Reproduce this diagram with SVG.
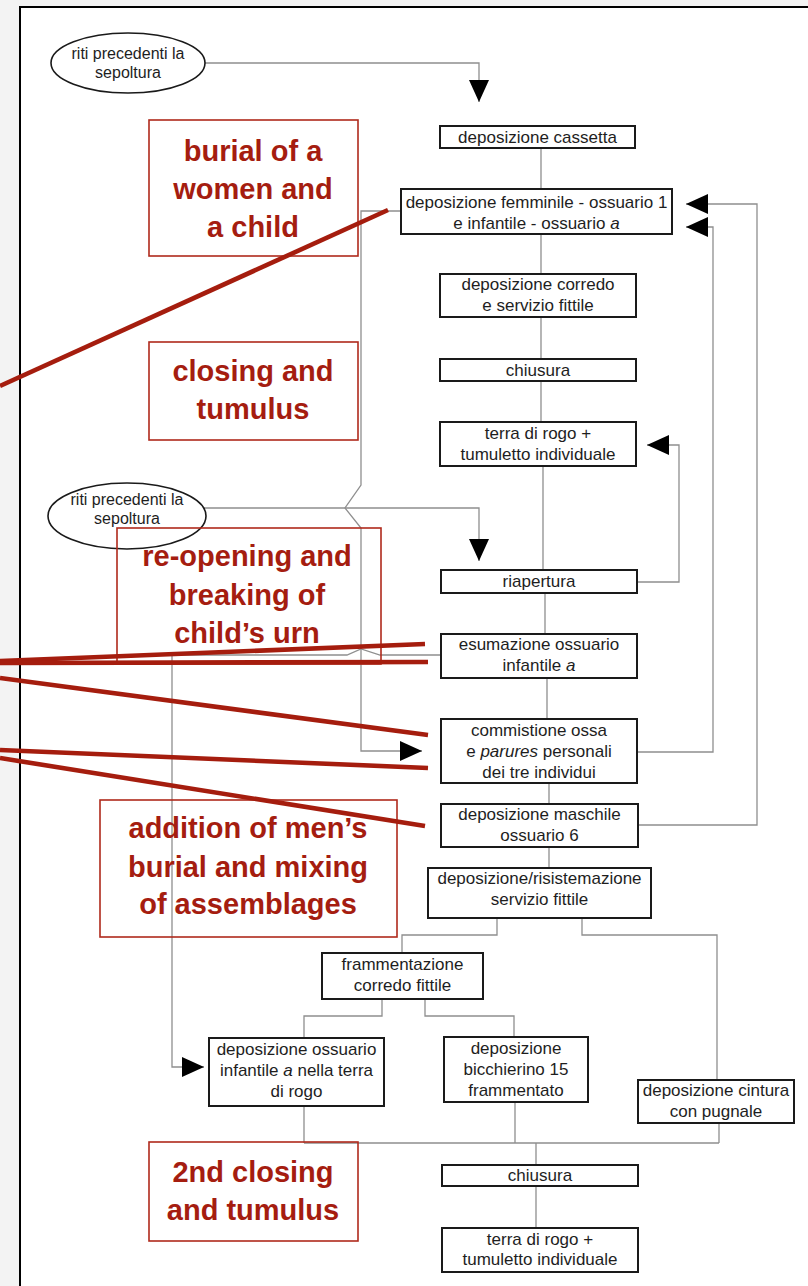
<svg xmlns="http://www.w3.org/2000/svg" width="808" height="1286" viewBox="0 0 808 1286">
<defs>
<marker id="ah" viewBox="0 0 22 20" refX="22" refY="10" markerWidth="22" markerHeight="20" markerUnits="userSpaceOnUse" orient="auto"><path d="M0,0 L22,10 L0,20 z" fill="#000"/></marker>
<style>
.box{fill:#fff;stroke:#1a1a1a;stroke-width:2}
.ell{fill:#fff;stroke:#1a1a1a;stroke-width:1.6}
.t{font-family:"Liberation Sans",Arial,sans-serif;font-size:17px;fill:#1e1e1e;text-anchor:middle}
.te{font-size:16px}
.it{font-style:italic}
.con{fill:none;stroke:#8f8f8f;stroke-width:1.3}
.arr{marker-end:url(#ah)}
.rbox{fill:none;stroke:#b02a1c;stroke-width:1.6}
.rt{font-family:"Liberation Sans",Arial,sans-serif;font-size:29px;font-weight:bold;fill:#a51d10;text-anchor:middle}
.rl{stroke:#a51d0e;stroke-width:4.6;fill:none}
</style>
</defs>
<rect x="0" y="0" width="808" height="1286" fill="#f3f3f3"/>
<rect x="20" y="7" width="800" height="1290" fill="#fff" stroke="#000" stroke-width="2"/>

<g id="connectors">
<path class="con arr" d="M204,63 H479 V102"/>
<path class="con" d="M541,148 V189 M541,234 V274 M541,317 V359 M541,381 V422 M543,466 V570 M545,593 V634 M547,678 V719 M549,783 V804 M549,847 V868"/>
<path class="con arr" d="M638,825 H757 V204 H686"/>
<path class="con arr" d="M637,752 H713 V227 H686"/>
<path class="con arr" d="M637,582 H679 V445 H647"/>
<path class="con arr" d="M401,211 H361 V485 L345,508 L361,528 V751 H422"/>
<path class="con arr" d="M204,508 H479 V561"/>
<path class="con arr" d="M441,655 H380 L361,649 L347,655 H172 V1067 H204"/>
<path class="con" d="M497,918 V935 H402 V953 M582,918 V935 H717 V1080"/>
<path class="con" d="M382,999 V1016 H304 V1038 M425,999 V1016 H514 V1037"/>
<path class="con" d="M304,1106 V1143 M515,1102 V1143 M719,1123 V1143 M304,1143 H719 M536,1143 V1165 M536,1186 V1228"/>
</g>

<g id="n_riti1"><ellipse class="ell" cx="128" cy="63" rx="77" ry="30"/><text class="t te" x="128" y="59">riti precedenti la</text><text class="t te" x="128" y="78">sepoltura</text></g>
<g id="n_cassetta"><rect class="box" x="440" y="126" width="195" height="22"/><text class="t" x="537.5" y="143">deposizione cassetta</text></g>
<g id="n_femminile"><rect class="box" x="401" y="189" width="271" height="45"/><text class="t" x="536.5" y="208">deposizione femminile - ossuario 1</text><text class="t" x="536.5" y="229">e infantile - ossuario <tspan class="it">a</tspan></text></g>
<g id="n_corredo"><rect class="box" x="440" y="274" width="196" height="43"/><text class="t" x="538" y="290">deposizione corredo</text><text class="t" x="538" y="311">e servizio fittile</text></g>
<g id="n_chiusura1"><rect class="box" x="440" y="359" width="196" height="22"/><text class="t" x="538" y="376">chiusura</text></g>
<g id="n_terra1"><rect class="box" x="440" y="422" width="196" height="44"/><text class="t" x="538" y="439">terra di rogo +</text><text class="t" x="538" y="460">tumuletto individuale</text></g>
<g id="n_riti2"><ellipse class="ell" cx="127" cy="516" rx="79" ry="33"/><text class="t te" x="127" y="505">riti precedenti la</text><text class="t te" x="127" y="524">sepoltura</text></g>
<g id="n_riapertura"><rect class="box" x="441" y="570" width="196" height="23"/><text class="t" x="539" y="587">riapertura</text></g>
<g id="n_esumazione"><rect class="box" x="441" y="634" width="196" height="44"/><text class="t" x="539" y="650">esumazione ossuario</text><text class="t" x="539" y="671">infantile <tspan class="it">a</tspan></text></g>
<g id="n_commistione"><rect class="box" x="441" y="719" width="196" height="64"/><text class="t" x="539" y="736">commistione ossa</text><text class="t" x="539" y="757">e <tspan class="it">parures</tspan> personali</text><text class="t" x="539" y="778">dei tre individui</text></g>
<g id="n_maschile"><rect class="box" x="441" y="804" width="197" height="43"/><text class="t" x="539.5" y="820">deposizione maschile</text><text class="t" x="539.5" y="841">ossuario 6</text></g>
<g id="n_risistemazione"><rect class="box" x="428" y="868" width="223" height="50"/><text class="t" x="539.5" y="884">deposizione/risistemazione</text><text class="t" x="539.5" y="905">servizio fittile</text></g>
<g id="n_frammentazione"><rect class="box" x="322" y="953" width="161" height="46"/><text class="t" x="402.5" y="970">frammentazione</text><text class="t" x="402.5" y="991">corredo fittile</text></g>
<g id="n_ossuario_inf"><rect class="box" x="209" y="1038" width="175" height="68"/><text class="t" x="296.5" y="1055">deposizione ossuario</text><text class="t" x="296.5" y="1076">infantile <tspan class="it">a</tspan>  nella terra</text><text class="t" x="296.5" y="1097">di rogo</text></g>
<g id="n_bicchierino"><rect class="box" x="444" y="1037" width="144" height="65"/><text class="t" x="516" y="1054">deposizione</text><text class="t" x="516" y="1075">bicchierino 15</text><text class="t" x="516" y="1096">frammentato</text></g>
<g id="n_cintura"><rect class="box" x="638" y="1080" width="156" height="43"/><text class="t" x="716" y="1096">deposizione cintura</text><text class="t" x="716" y="1117">con pugnale</text></g>
<g id="n_chiusura2"><rect class="box" x="442" y="1165" width="196" height="21"/><text class="t" x="540" y="1181">chiusura</text></g>
<g id="n_terra2"><rect class="box" x="442" y="1228" width="196" height="44"/><text class="t" x="540" y="1245">terra di rogo +</text><text class="t" x="540" y="1265">tumuletto individuale</text></g>

<g id="a_burial"><rect class="rbox" x="149" y="120" width="209" height="136"/><text class="rt" x="253" y="161">burial of a</text><text class="rt" x="253" y="199">women and</text><text class="rt" x="253" y="237">a child</text></g>
<g id="a_closing"><rect class="rbox" x="149" y="342" width="209" height="98"/><text class="rt" x="253" y="381">closing and</text><text class="rt" x="253" y="419">tumulus</text></g>
<g id="a_reopening"><rect class="rbox" x="117" y="528" width="264" height="136"/><text class="rt" x="247" y="566">re-opening and</text><text class="rt" x="247" y="605">breaking of</text><text class="rt" x="247" y="643">child’s urn</text></g>
<g id="a_addition"><rect class="rbox" x="100" y="800" width="297" height="137"/><text class="rt" x="248" y="838">addition of men’s</text><text class="rt" x="248" y="877">burial and mixing</text><text class="rt" x="248" y="914">of assemblages</text></g>
<g id="a_closing2"><rect class="rbox" x="149" y="1142" width="209" height="99"/><text class="rt" x="253" y="1182">2nd closing</text><text class="rt" x="253" y="1220">and tumulus</text></g>
<g id="a_lines">
<line class="rl" x1="388" y1="210" x2="0" y2="386"/>
<line class="rl" x1="0" y1="661" x2="425" y2="644"/>
<line class="rl" x1="0" y1="663" x2="428" y2="662"/>
<line class="rl" x1="0" y1="678" x2="428" y2="735"/>
<line class="rl" x1="0" y1="750" x2="428" y2="768"/>
<line class="rl" x1="0" y1="758" x2="425" y2="826"/>
</g>
</svg>
